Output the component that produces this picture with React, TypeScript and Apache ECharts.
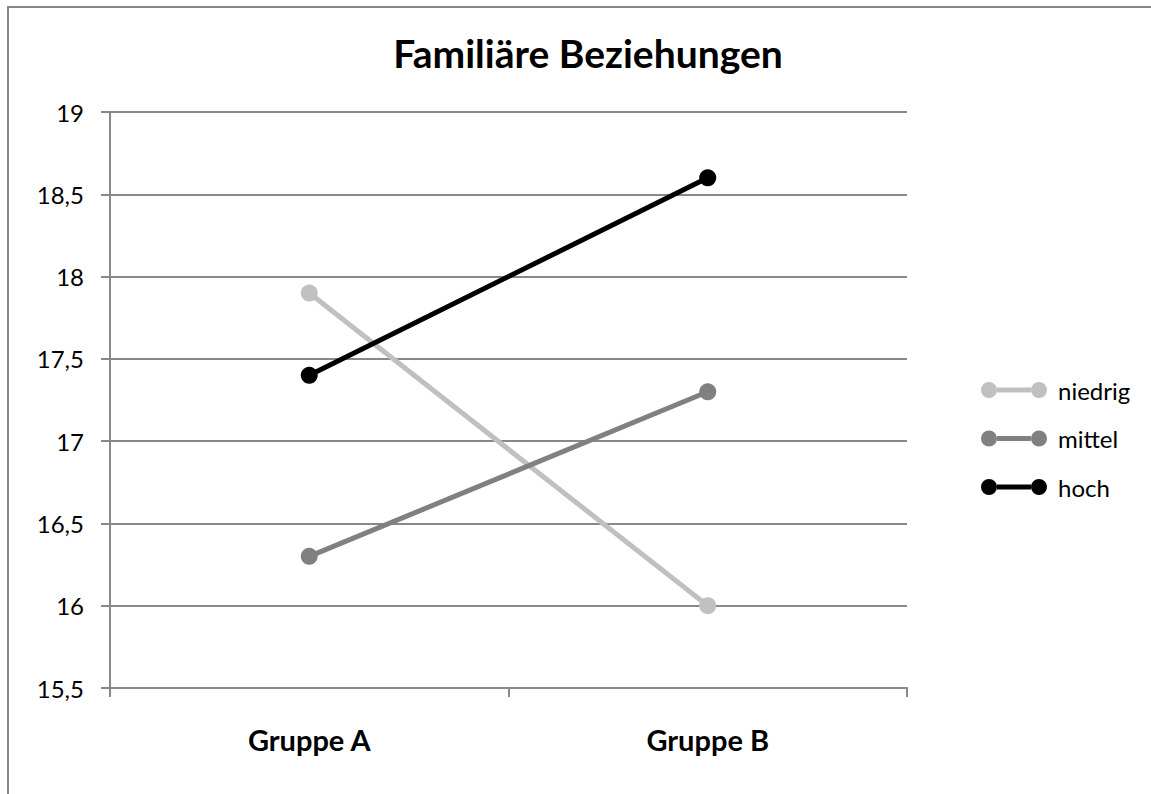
import React, { useEffect, useRef } from "react";
import * as echarts from "echarts";

const categories = ["Gruppe A", "Gruppe B"];
const seriesNames = ["niedrig", "mittel", "hoch"];
const niedrig = [17.9, 16.0];
const mittel = [16.3, 17.3];
const hoch = [17.4, 18.6];
const seriesColors = ["#c0c0c0", "#808080", "#000000"];
const yTicks = { min: 15.5, max: 19, interval: 0.5 };

const FONT = "Lato, 'Open Sans', sans-serif";
const legendIcon =
  "path://M0,8a8,8 0 1,0 16,0a8,8 0 1,0 -16,0Z M50,8a8,8 0 1,0 16,0a8,8 0 1,0 -16,0Z M16,5.5L50,5.5L50,10.5L16,10.5Z";

export default function App() {
  const ref = useRef<HTMLDivElement>(null);
  useEffect(() => {
    if (!ref.current) return;
    const chart = echarts.init(ref.current, null, { renderer: "svg" });
    const values = [niedrig, mittel, hoch];
    chart.setOption({
      animation: false,
      backgroundColor: "#ffffff",
      title: {
        text: "Familiäre Beziehungen",
        left: 583,
        top: 28,
        textAlign: "center",
        textStyle: { fontFamily: FONT, fontWeight: "bold", fontSize: 39, color: "#000" },
      },
      graphic: [
        {
          type: "rect",
          shape: { x: 8, y: 7, width: 1300, height: 1000 },
          style: { fill: "none", stroke: "#888888", lineWidth: 2 },
          silent: true,
        },
      ],
      legend: {
        orient: "vertical",
        left: 981,
        top: 378,
        padding: 0,
        itemWidth: 66,
        itemHeight: 16,
        itemGap: 24.5,
        icon: legendIcon,
        textStyle: { fontFamily: FONT, fontSize: 24, color: "#000", padding: [0, 0, 0, 6] },
        data: seriesNames,
      },
      grid: { left: 110, right: 244, top: 112, bottom: 106 },
      xAxis: {
        type: "category",
        data: categories,
        boundaryGap: true,
        axisLine: { lineStyle: { color: "#888888", width: 2 } },
        axisTick: { show: true, length: 9, lineStyle: { color: "#888888", width: 2 } },
        axisLabel: { fontFamily: FONT, fontWeight: "bold", fontSize: 29, color: "#000", margin: 37 },
      },
      yAxis: {
        type: "value",
        min: yTicks.min,
        max: yTicks.max,
        interval: yTicks.interval,
        axisLine: { show: true, lineStyle: { color: "#888888", width: 2 } },
        axisTick: { show: true, length: 9, lineStyle: { color: "#888888", width: 2 } },
        splitLine: { show: true, lineStyle: { color: "#888888", width: 2 } },
        axisLabel: {
          fontFamily: FONT,
          fontSize: 24,
          color: "#000",
          margin: 26,
          formatter: (v: number) => String(v).replace(".", ","),
        },
      },
      series: seriesNames.map((name, i) => ({
        name,
        type: "line",
        data: values[i],
        symbol: "circle",
        symbolSize: 17,
        color: seriesColors[i],
        lineStyle: { width: 5, color: seriesColors[i] },
        itemStyle: { color: seriesColors[i] },
      })),
    });
    return () => chart.dispose();
  }, []);
  return (
    <div
      ref={ref}
      style={{ position: "fixed", left: 0, top: 0, width: 1151, height: 794 }}
    />
  );
}
